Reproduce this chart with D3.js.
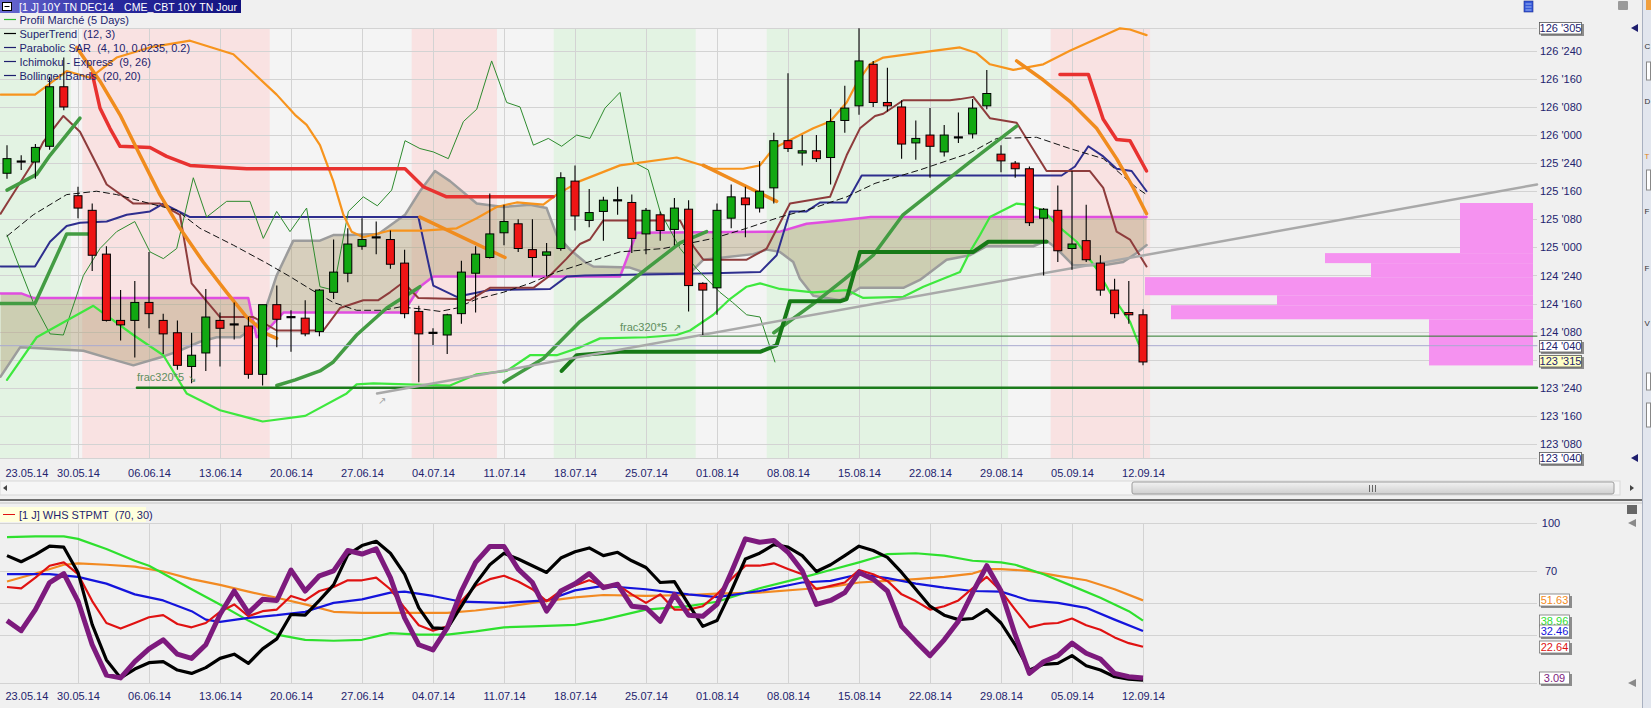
<!DOCTYPE html>
<html><head><meta charset="utf-8">
<script src="https://d3js.org/d3.v7.min.js"></script>
<style>
html,body{margin:0;padding:0;background:#f0f0f0;overflow:hidden}
svg{display:block}
text{font-family:"Liberation Sans",Arial,sans-serif;font-size:11px;white-space:pre}
</style></head><body>
<svg id="c" width="1651" height="708"></svg>
<script>
// ---------------- DATA ----------------
const dates = d3.timeDay.range(new Date(2014,4,23), new Date(2014,8,13))
  .filter(d => d.getDay() !== 0 && d.getDay() !== 6).map(d3.timeFormat("%d.%m.%y"));

const openP = [125.66,125.76,125.76,125.90,126.43,125.46,125.33,124.94,124.35,124.35,
124.51,124.35,124.24,123.94,124.06,124.35,124.32,124.30,123.87,124.49,
124.38,124.37,124.25,124.60,124.77,125.01,125.09,125.07,124.86,124.43,
124.24,124.22,124.41,124.77,124.91,125.13,125.21,124.98,124.93,124.99,
125.59,125.24,125.32,125.42,125.40,125.12,125.29,125.16,125.34,124.68,
124.64,125.26,125.44,125.35,125.53,125.95,125.84,125.86,125.80,126.13,
126.26,126.63,126.29,126.25,125.93,126.00,125.85,125.98,126.01,126.26,
125.83,125.75,125.70,125.26,125.33,124.99,125.06,124.86,124.62,124.42,124.40];
const highP = [125.91,125.82,125.92,126.52,126.69,125.54,125.39,125.01,124.62,124.70,
124.96,124.41,124.35,124.24,124.63,124.42,124.51,124.38,124.49,124.66,
124.44,124.53,124.63,125.07,125.17,125.26,125.23,125.15,124.98,124.48,
124.28,124.41,124.88,125.01,125.48,125.38,125.25,125.25,125.04,125.67,
125.73,125.52,125.45,125.54,125.47,125.35,125.32,125.44,125.42,124.69,
125.39,125.56,125.54,125.77,126.02,126.55,126.00,126.00,126.23,126.44,
126.95,126.66,126.60,126.31,126.13,126.24,126.09,126.20,126.32,126.58,
125.91,125.77,125.72,125.35,125.55,125.68,125.38,124.93,124.72,124.70,124.45];
const lowP = [125.61,125.69,125.61,125.87,126.22,125.26,124.79,124.34,124.17,124.02,
124.28,124.05,123.91,123.79,123.90,123.94,124.18,123.83,123.77,124.11,
124.07,124.21,124.21,124.54,124.69,124.98,124.94,124.81,124.37,123.80,
124.13,124.05,124.32,124.42,124.90,125.02,124.96,124.74,124.74,124.97,
125.15,125.18,125.06,125.29,124.95,124.94,125.06,125.02,124.43,124.22,
124.40,125.17,125.09,125.31,125.39,125.85,125.73,125.76,125.56,126.02,
126.18,126.25,126.21,125.79,125.78,125.62,125.81,125.93,125.97,126.23,
125.67,125.62,125.19,124.75,124.87,124.80,124.87,124.57,124.37,124.32,123.95];
const closeP = [125.79,125.77,125.89,126.43,126.25,125.35,124.93,124.35,124.31,124.51,
124.41,124.23,123.95,124.04,124.38,124.28,124.31,123.87,124.49,124.36,
124.38,124.23,124.62,124.78,125.03,125.07,125.09,124.85,124.41,124.23,
124.24,124.40,124.78,124.94,125.12,125.23,124.99,124.91,124.96,125.62,
125.28,125.31,125.42,125.42,125.08,125.33,125.15,125.35,124.66,124.62,
125.33,125.45,125.38,125.50,125.95,125.88,125.86,125.79,126.12,126.24,
126.66,126.29,126.26,125.92,125.97,125.90,126.00,125.98,126.24,126.37,
125.77,125.70,125.22,125.34,124.97,125.03,124.89,124.62,124.41,124.40,123.98];

// background regime bands [fromBar, toBar, kind]
const bands = [[-0.5,4.5,"G"],[5.3,18.5,"R"],[28.5,34.5,"R"],[38.5,48.5,"G"],[53.5,70.5,"G"],[73.5,80.5,"R"]];

// indicator vertices [bar, price]
const upperBB = [[-0.45,126.36],[1.97,126.36],[4.2,126.57],[5.85,126.51],[7.72,126.69],[10.07,126.78],[12.89,126.84],[15.94,126.72],[18.99,126.36],[20.28,126.18],[21.1,126.09],[22.04,125.91],[22.98,125.59],[23.69,125.29],[24.27,125.14],[25.09,125.09],[26.97,125.15],[29.32,125.15],[31.67,125.17],[33.08,125.26],[34.48,125.36],[35.9,125.40],[37.77,125.38],[38.71,125.47],[40.35,125.59],[43.17,125.73],[47.16,125.80],[49.74,125.70],[51.85,125.70],[53.03,125.73],[53.97,125.88],[56.78,126.06],[57.96,126.12],[59.13,126.29],[59.83,126.46],[60.77,126.63],[61.71,126.69],[65.23,126.75],[67.11,126.78],[68.28,126.73],[69.22,126.63],[70.86,126.58],[72.98,126.63],[74.85,126.75],[78.38,126.95],[79.08,126.94],[80.25,126.89]];
const lowerBB = [[0,123.82],[2.09,124.20],[6.08,124.48],[8.9,124.22],[11.01,124.04],[12.65,123.70],[15.0,123.55],[18.0,123.45],[21.0,123.50],[23.92,123.70],[24.62,123.78],[25.8,123.79],[28.15,123.78],[31.2,123.77],[33.08,123.87],[35.19,123.90],[36.83,124.04],[38.71,124.04],[40.35,124.11],[41.76,124.19],[45.05,124.20],[47.16,124.22],[48.1,124.26],[49.74,124.40],[50.91,124.54],[52.09,124.65],[53.03,124.68],[54.43,124.63],[56.78,124.60],[59.13,124.62],[60.3,124.55],[63.12,124.56],[64.53,124.65],[67.11,124.78],[67.81,124.96],[68.52,125.11],[69.22,125.27],[71.1,125.39],[71.8,125.38],[72.98,125.33],[73.92,125.20],[75.33,125.05],[76.73,124.81],[77.67,124.60],[79.08,124.34],[79.79,124.11]];
const midBB = [[0,125.10],[1.85,125.29],[4.2,125.47],[6.31,125.50],[7.72,125.47],[10.07,125.39],[11.95,125.33],[13.59,125.17],[15.94,125.02],[18.28,124.86],[19.93,124.74],[21.34,124.63],[22.98,124.51],[24.62,124.44],[26.5,124.44],[27.68,124.47],[29.32,124.45],[30.49,124.43],[31.67,124.46],[33.08,124.54],[34.95,124.60],[36.83,124.68],[38.71,124.78],[40.7,124.86],[43.17,124.96],[46.22,124.99],[49.74,125.08],[52.09,125.17],[54.43,125.27],[56.78,125.35],[59.13,125.45],[61.13,125.57],[64.29,125.69],[67.81,125.84],[69.69,125.97],[72.51,125.98],[74.85,125.88],[77.2,125.79],[79.55,125.53],[80.25,125.47]];
const stRed1 = [[6.0,126.55],[6.55,126.24],[7.25,126.06],[7.96,125.90],[10.07,125.89],[11.24,125.81],[12.89,125.73],[16.88,125.70],[28.03,125.70],[29.32,125.54],[30.96,125.45],[38.47,125.45]];
const stRed2 = [[74.15,126.54],[76.15,126.54],[77.2,126.14],[78.14,125.96],[79.08,125.95],[80.25,125.68]];
const greenA = [[0,125.51],[2.09,125.65],[3.03,125.82],[5.14,126.15]];
const greenB = [[-0.45,124.50],[1.97,124.50],[4.2,125.12],[5.73,125.12]];
const greenC = [[19.0,123.77],[20.3,123.82],[22.04,123.90],[22.98,123.98],[24.62,124.22],[26.74,124.46],[29.08,124.65]];
const greenD = [[35.0,123.80],[37.77,124.01],[40.35,124.34],[42.7,124.57],[45.05,124.81],[47.4,125.04],[49.27,125.14]];
const greenE = [[54.0,124.24],[56.8,124.50],[59.0,124.72],[61.0,124.93],[63.1,125.29],[65.5,125.53],[67.8,125.76],[71.1,126.08]];
const darkStep = [[39.06,123.90],[40.12,124.04],[43.17,124.07],[53.03,124.07],[54.2,124.13],[55.14,124.52],[58.66,124.52],[59.13,124.54],[60.07,124.96],[68.05,124.96],[69.1,125.05],[73.21,125.05]];
const brown = [[-0.45,125.30],[0,125.39],[1.85,125.76],[2.56,125.94],[3.97,126.17],[5.14,126.03],[6.55,125.68],[7.02,125.56],[8.9,125.39],[10.77,125.39],[12.18,125.29],[13.0,124.68],[15.0,124.38],[17.35,124.38],[18.99,124.26],[22.28,124.26],[23.45,124.46],[25.09,124.53],[26.15,124.53],[26.97,124.60],[27.91,124.69],[28.97,124.55],[31.67,124.54],[32.6,124.53],[34.01,124.64],[37.07,124.64],[38.24,124.75],[39.41,124.90],[40.35,125.03],[41.05,125.07],[42.0,125.24],[47.4,125.24],[48.33,125.01],[49.04,124.89],[52.09,124.89],[53.5,124.99],[55.14,125.39],[57.96,125.45],[59.13,125.82],[60.07,126.06],[61.13,126.17],[61.71,126.19],[63.12,126.31],[66.4,126.31],[67.11,126.32],[68.05,126.34],[69.22,126.15],[71.1,126.11],[73.21,125.68],[76.26,125.68],[77.2,125.53],[78.14,125.14],[79.08,125.07],[80.25,124.83]];
const navy = [[-0.45,124.83],[1.97,124.83],[3.03,125.05],[4.2,125.19],[5.14,125.22],[7.02,125.23],[8.43,125.29],[10.07,125.32],[11.01,125.39],[11.95,125.33],[12.89,125.27],[28.97,125.27],[30.02,124.66],[31.67,124.56],[34.01,124.62],[38.24,124.63],[39.41,124.74],[40.7,124.75],[49.74,124.77],[53.03,124.78],[54.2,124.93],[55.14,125.32],[56.31,125.32],[57.25,125.40],[59.13,125.40],[60.19,125.64],[74.27,125.64],[75.21,125.72],[76.15,125.90],[77.2,125.81],[78.14,125.70],[79.2,125.68],[80.25,125.50]];
const spanB = [[-0.45,124.59],[1.0,124.59],[1.85,124.55],[16.99,124.55],[17.58,124.20],[18.52,124.29],[19.46,124.42],[27.91,124.42],[29.08,124.65],[30.02,124.74],[43.17,124.74],[44.34,125.13],[54.43,125.14],[56.31,125.21],[57.96,125.23],[60.82,125.27],[80.25,125.27]];
const spanA = [[-0.45,123.85],[0.92,124.11],[2.56,124.10],[5.38,124.08],[7.25,124.01],[8.9,123.95],[10.77,124.02],[11.95,124.07],[13.59,124.16],[14.77,124.20],[16.41,124.20],[17.58,124.31],[18.28,124.48],[18.99,124.75],[20.16,125.06],[22.04,125.06],[22.98,125.11],[24.04,125.11],[26.15,125.12],[28.03,125.29],[29.08,125.50],[30.14,125.68],[31.2,125.59],[33.08,125.39],[34.95,125.36],[36.83,125.38],[38.0,125.35],[38.71,125.11],[39.65,124.98],[40.7,124.87],[41.29,124.83],[43.87,124.82],[45.05,124.77],[48.1,124.77],[49.04,124.89],[52.56,124.94],[53.5,124.98],[54.43,124.96],[55.37,124.87],[55.84,124.72],[56.78,124.57],[58.66,124.53],[59.13,124.56],[60.07,124.64],[63.12,124.64],[64.29,124.71],[66.17,124.89],[67.81,124.93],[68.99,125.01],[72.27,125.01],[73.21,125.06],[73.92,124.99],[75.09,124.84],[77.2,124.84],[78.61,124.87],[79.55,124.95],[80.25,125.02]];
const chikou = [[0,125.11],[0.92,124.81],[1.85,124.51],[3.03,124.23],[3.97,124.22],[5.38,124.75],[6.55,124.99],[7.72,125.14],[9.0,125.23],[10.07,124.96],[11.01,124.90],[11.95,124.99],[13.12,125.62],[14.06,125.27],[15.47,125.41],[17.11,125.41],[18.05,125.08],[18.99,125.32],[19.93,125.14],[21.1,125.35],[22.04,124.65],[22.98,124.62],[24.04,125.32],[25.09,125.45],[26.08,125.37],[27.09,125.51],[28.03,125.95],[29.08,125.88],[30.02,125.85],[31.08,125.79],[32.14,126.12],[33.08,126.23],[34.13,126.66],[35.19,126.29],[36.13,126.25],[37.07,125.91],[38.12,125.97],[39.06,125.90],[40.12,126.00],[41.05,125.97],[42.11,126.24],[43.17,126.38],[44.11,125.76],[45.16,125.69],[45.99,125.32],[47.4,124.99],[48.57,124.81],[50.21,124.60],[51.1,124.51],[52.09,124.40],[53.03,124.38],[54.08,123.98]];
const orangeT1 = [[4.91,126.78],[6.55,126.48],[7.96,126.18],[9.37,125.82],[10.77,125.47],[12.18,125.17],[13.82,124.87],[15.47,124.60],[16.88,124.38],[18.28,124.23],[18.99,124.19]];
const orangeT2 = [[29.08,125.27],[35.07,124.91]];
const orangeT3 = [[49.04,125.73],[54.2,125.41]];
const orangeT4 = [[71.1,126.66],[72.98,126.49],[74.85,126.30],[76.73,126.06],[78.14,125.79],[79.32,125.53],[80.25,125.30]];
const trendGrey = [[26.06,123.70],[107.75,125.56]];
const fracLevel = {price:123.75, fromBar:9.15};
const fracLevel2 = {price:124.21, fromBar:48.8};
const markLevel = 124.125;

// market profile
const profLo  = [124.949,124.860,124.735,124.574,124.485,124.360,123.949];
const profHi  = [125.395,124.949,124.860,124.735,124.574,124.485,124.360];
const profVol = [73,208,162,388,256,362,104];

// price boxes
const boxVals = [126.953125, 124.125, 123.984375, 123.125];

// ---- lower panel: WHS STPMT ----
const stBlack = [79.6,75.8,80.2,85.5,84.9,69.1,36.5,14.4,3.2,8.7,12.7,13.3,8.1,6.0,9.6,15.4,18.0,12.3,21.3,27.6,42.8,42.4,51.6,61.3,80.2,85.9,88.6,81.1,68.0,47.0,34.4,34.0,48.0,62.1,73.9,81.1,77.5,73.3,69.1,78.1,
82.0,84.4,79.6,81.7,76.4,72.2,62.8,63.4,49.1,35.4,39.0,57.5,77.5,81.1,86.5,84.9,79.6,69.7,73.9,79.6,85.5,82.8,78.5,69.1,58.6,48.0,42.4,39.6,40.3,45.9,37.5,23.9,8.1,11.7,12.3,17.1,10.8,8.1,3.9,2.4,1.8];
const stPurple = [39.0,32.7,45.9,62.8,68.4,51.2,23.9,4.9,3.2,13.3,21.3,27.0,18.0,15.4,23.9,42.8,57.5,43.8,52.3,51.6,70.6,57.5,67.0,70.1,82.8,80.6,83.8,65.9,40.7,23.9,20.7,34.4,57.5,75.4,85.3,85.3,71.2,62.8,44.9,57.5,
62.0,68.4,59.6,61.7,48.0,47.0,38.6,55.4,42.4,41.7,49.1,69.1,90.1,88.0,89.1,81.7,70.1,49.1,51.6,56.5,69.1,64.9,57.5,35.4,26.0,17.1,27.0,38.6,56.5,73.3,57.5,30.2,6.0,13.3,17.1,24.9,18.6,15.0,6.0,3.9,3.09];
const stRed = [60.0,59.2,65.9,73.3,75.4,68.0,51.2,37.5,34.0,37.5,41.1,42.4,36.9,34.8,37.5,44.5,49.1,41.7,44.9,45.9,54.4,51.6,57.5,60.0,64.2,64.2,65.9,58.6,47.0,36.1,32.7,35.4,51.2,60.7,64.9,67.0,63.4,58.6,51.2,57.5,
61.0,64.2,60.7,61.3,55.4,50.1,55.4,45.9,45.9,48.0,55.4,64.9,73.3,73.3,74.8,71.2,68.0,58.6,60.7,62.8,70.6,68.0,63.8,55.4,51.2,45.9,48.0,51.6,59.2,66.3,57.5,45.9,34.8,36.9,37.5,40.3,36.1,33.3,28.5,24.9,22.64];
const stBlue = [[0,68.0],[3,68.0],[5,66.3],[7,62.1],[9,55.4],[11,51.6],[13,44.9],[14,39.6],[15,38.2],[17,40.7],[19,42.4],[21,44.5],[23,50.1],[25,52.3],[27,56.5],[28,57.1],[30,54.4],[32,50.8],[35,50.1],[38,51.6],[40,57.9],[42,60.7],[45,58.6],[48,55.4],[50,53.7],[53,57.5],[56,62.8],[58,63.8],[60,68.0],[62,65.5],[64,62.1],[66,59.6],[68,57.5],[70,57.1],[72,51.6],[74,50.1],[76,47.0],[78,39.6],[80,32.46]];
const stGreen = [[0,91.2],[2,91.6],[4,91.6],[5,90.1],[7,83.8],[9,76.4],[10,73.3],[11,68.4],[13,58.6],[15,49.1],[17,39.0],[19,30.2],[21,27.0],[23,26.4],[25,27.0],[27,31.2],[29,30.2],[31,30.2],[33,32.3],[35,34.8],[37,35.4],[40,36.3],[42,39.6],[45,45.9],[48,48.0],[50,50.8],[53,59.2],[56,65.9],[58,70.6],[60,75.4],[62,80.6],[64,81.1],[66,79.6],[68,76.4],[70,75.4],[71,73.9],[73,68.0],[75,60.7],[77,53.3],[79,44.9],[80,38.96]];
const stOrange = [[0,63.4],[2,68.4],[4,73.9],[5,74.8],[7,73.9],[9,72.7],[11,69.7],[13,64.9],[15,61.3],[17,57.1],[19,53.3],[21,49.1],[23,44.5],[25,43.8],[27,43.8],[29,43.8],[31,43.8],[33,45.3],[35,47.4],[37,50.1],[40,53.5],[42,55.0],[45,54.4],[48,55.0],[50,55.8],[53,56.5],[56,58.6],[58,60.0],[60,62.8],[62,63.8],[64,64.9],[66,66.3],[68,68.4],[69,71.2],[70,71.2],[72,70.1],[74,67.0],[76,64.2],[78,58.6],[80,51.63]];
const lowerTicks = [100,70];
const lowerGrid = [0,30,50,70,100];

// ---------------- DRAW ----------------
const svg = d3.select("#c");
const XR = 1537, TOP = 28, BOT = 458;
const x = d3.scaleLinear().domain([0,80]).range([7,1143]);
const y = d3.scaleLinear().domain([123.125,126.953125]).range([BOT,TOP]);
const yb = d3.scaleLinear().domain([0,100]).range([683,523]);
const pv = d3.scaleLinear().domain([0,400]).range([0,400]);
const fmt = v => { const n = Math.floor(v + 1e-9); const f = Math.round((v - n) * 320); return n + " '" + String(f).padStart(3,"0"); };
const fridays = d3.range(5, 81, 5);
const NAVY = "#1e1e6e";

svg.append("rect").attr("width",1651).attr("height",708).attr("fill","#f0f0f0");
const defs = svg.append("defs");
const tg = defs.append("linearGradient").attr("id","tg");
tg.append("stop").attr("offset","0").attr("stop-color","#6a6ad2");
tg.append("stop").attr("offset","0.45").attr("stop-color","#2a2aa0");
tg.append("stop").attr("offset","1").attr("stop-color","#12127e");
const sg = defs.append("linearGradient").attr("id","sg").attr("x1",0).attr("x2",0).attr("y1",0).attr("y2",1);
sg.append("stop").attr("offset","0").attr("stop-color","#f2f2f2");
sg.append("stop").attr("offset","1").attr("stop-color","#cfcfcf");

// background bands
svg.append("rect").attr("x",x(-0.5)).attr("y",TOP).attr("width",x(80.5)-x(-0.5)).attr("height",BOT-TOP).attr("fill","#f4f4f4");
svg.append("g").selectAll("rect").data(bands).join("rect")
  .attr("x",d=>x(d[0])).attr("y",TOP).attr("width",d=>x(d[1])-x(d[0])).attr("height",BOT-TOP)
  .attr("fill",d=>d[2]==="G"?"#e3f3e3":"#f9e2e2");

// grid (top)
const priceTicks = d3.range(123.25, 126.76, 0.25);
const grid = svg.append("g").attr("stroke","#d3d3d3").attr("stroke-width",1);
priceTicks.concat([126.953125,123.125]).forEach(v=>{
  const yy = Math.round(y(v))+0.5;
  grid.append("line").attr("x1",0).attr("x2",XR).attr("y1",yy).attr("y2",yy);
});
fridays.forEach(i=>{
  const xx = Math.round(x(i))+0.5;
  grid.append("line").attr("x1",xx).attr("x2",xx).attr("y1",TOP).attr("y2",BOT);
});

// market profile
svg.append("g").selectAll("rect").data(profVol).join("rect")
  .attr("x",(d)=>1533-pv(d)).attr("width",d=>pv(d))
  .attr("y",(d,k)=>y(profHi[k])).attr("height",(d,k)=>y(profLo[k])-y(profHi[k]))
  .attr("fill","#f592f0");

const line = d3.line().x(d=>x(d[0])).y(d=>y(d[1]));
function lp(data,color,w,dash,op){
  svg.append("path").attr("d",line(data)).attr("fill","none").attr("stroke",color)
   .attr("stroke-width",w).attr("stroke-linejoin","round").attr("stroke-linecap","round")
   .attr("stroke-dasharray",dash||null).attr("opacity",op||1);
}
// ichimoku cloud
svg.append("path").attr("d",line(spanA.concat(spanB.slice().reverse()))+"Z")
  .attr("fill","#a89464").attr("fill-opacity",0.38).attr("stroke","none");
lp(spanA,"#9c9c9c",2.5);
lp(spanB,"#e04ee0",2.5);
lp(navy,"#2e2e8e",2);
lp(brown,"#8e3c3c",2);
lp(chikou,"#2e8b2e",1);
lp(upperBB,"#f7941d",2.2);
lp(lowerBB,"#3ee83e",2.2);
lp(midBB,"#111",1,"6,4");
lp(stRed1,"#e83230",3.5);
lp(stRed2,"#e83230",3.5);
[greenA,greenB,greenC,greenD,greenE].forEach(s=>lp(s,"#439c43",3.5));
lp(darkStep,"#177a17",4);
[orangeT1,orangeT2,orangeT3,orangeT4].forEach(s=>lp(s,"#f08c1e",3.5));
const iR = x.invert(XR);
lp([[fracLevel.fromBar,fracLevel.price],[iR,fracLevel.price]],"#1b7b1b",2.5);
lp([[fracLevel2.fromBar,fracLevel2.price],[iR,fracLevel2.price]],"#2a7a2a",1);
lp([[x.invert(0),markLevel],[iR,markLevel]],"#aaaad0",1);
lp(trendGrey,"#a9a9a9",2.5);

// candles
const cg = svg.append("g");
openP.forEach((o,i)=>{
  const c = closeP[i], cx = x(i);
  cg.append("line").attr("x1",cx).attr("x2",cx).attr("y1",y(highP[i])).attr("y2",y(lowP[i])).attr("stroke","#000").attr("stroke-width",1.1);
  const y1 = y(Math.max(o,c)), y2 = y(Math.min(o,c));
  if (y2 - y1 < 1.6) {
    cg.append("rect").attr("x",cx-4.5).attr("y",(y1+y2)/2-1).attr("width",9).attr("height",2.2).attr("fill","#000");
  } else {
    cg.append("rect").attr("x",cx-4).attr("y",y1).attr("width",8).attr("height",y2-y1)
      .attr("fill", c>o ? "#12a812" : "#ee1515").attr("stroke","#000").attr("stroke-width",1);
  }
});

// frac annotations
const ann = svg.append("g").attr("fill","#5f8f5f");
ann.append("text").attr("x",x(fracLevel.fromBar)).attr("y",381).text("frac320*5");
ann.append("text").attr("x",188).attr("y",382).style("font-family","DejaVu Sans").style("font-size","10px").text("↘");
ann.append("text").attr("x",620).attr("y",331).text("frac320*5");
ann.append("text").attr("x",673).attr("y",331).style("font-family","DejaVu Sans").style("font-size","10px").text("↗");
svg.append("text").attr("x",378).attr("y",404).attr("fill","#a0a0a0").style("font-family","DejaVu Sans").style("font-size","10px").text("↗");

// price axis
const pa = svg.append("g").attr("transform",`translate(${XR},0)`)
  .call(d3.axisRight(y).tickValues(priceTicks).tickFormat(fmt).tickSize(0).tickPadding(3));
pa.select(".domain").remove();
pa.selectAll("text").attr("fill","#23236e").style("font-size","11px").style("font-family","Liberation Sans, Arial");
// boxes
const bx = svg.append("g");
boxVals.forEach(v=>{
  const yy = Math.round(y(v));
  bx.append("rect").attr("x",1541).attr("y",yy-4).attr("width",43).attr("height",12).attr("fill","#8c8c8c");
  bx.append("rect").attr("x",1539.5).attr("y",yy-5.5).attr("width",42).attr("height",11.5)
    .attr("fill", v===123.984375 ? "#ffffc4" : "#ffffff").attr("stroke","#555").attr("stroke-width",0.8);
  bx.append("text").attr("x",1560.5).attr("y",yy+4).attr("text-anchor","middle").attr("fill","#23236e").text(fmt(v));
});

// date axis (top)
const da = svg.append("g").attr("transform","translate(0,467)")
  .call(d3.axisBottom(x).tickValues([0].concat(fridays)).tickFormat(i=>dates[i]).tickSize(0).tickPadding(2));
da.select(".domain").remove();
da.selectAll("text").attr("fill","#23236e").style("font-size","11px").style("font-family","Liberation Sans, Arial");
da.selectAll("text").filter(d=>d===0).attr("text-anchor","start").attr("x",-2);

// scrollbar & divider
svg.append("rect").attr("x",0).attr("y",481).attr("width",1620).attr("height",14).attr("fill","#f6f6f6").attr("stroke","#d8d8d8");
svg.append("rect").attr("x",1132).attr("y",482).attr("width",482).attr("height",12).attr("rx",2).attr("fill","url(#sg)").attr("stroke","#9c9c9c");
[1369,1372,1375].forEach(g=>svg.append("line").attr("x1",g+0.5).attr("x2",g+0.5).attr("y1",485).attr("y2",492).attr("stroke","#666"));
svg.append("path").attr("d","M3,488 L7,485 L7,491 Z").attr("fill","#444");
svg.append("path").attr("d","M1630,485 L1634,488 L1630,491 Z").attr("fill","#444");
svg.append("line").attr("x1",0).attr("x2",1642).attr("y1",500).attr("y2",500).attr("stroke","#6e6e6e").attr("stroke-width",2);
svg.append("line").attr("x1",0).attr("x2",1642).attr("y1",503).attr("y2",503).attr("stroke","#c4c4c4").attr("stroke-width",1);

// lower panel grid
const lg = svg.append("g").attr("stroke","#d3d3d3");
lowerGrid.forEach(v=>{const yy=Math.round(yb(v))+0.5; lg.append("line").attr("x1",0).attr("x2",XR).attr("y1",yy).attr("y2",yy);});
fridays.forEach(i=>{const xx=Math.round(x(i))+0.5; lg.append("line").attr("x1",xx).attr("x2",xx).attr("y1",yb(100)).attr("y2",yb(0));});

const lineB = d3.line().x(d=>x(d[0])).y(d=>yb(d[1]));
const idx = arr => arr.map((v,i)=>[i,v]);
function lb(data,color,w){ svg.append("path").attr("d",lineB(data)).attr("fill","none").attr("stroke",color).attr("stroke-width",w).attr("stroke-linejoin","round"); }
lb(stOrange,"#f28a22",2.2);
lb(stGreen,"#2ee02e",2.2);
lb(stBlue,"#1414dc",2.2);
lb(idx(stRed),"#e01212",2.2);
lb(idx(stBlack),"#000000",3.2);
lb(idx(stPurple),"#7d1a7d",5);

// lower axis labels
const la = svg.append("g").attr("transform",`translate(${XR},0)`)
  .call(d3.axisRight(yb).tickValues(lowerTicks).tickSize(0).tickPadding(14));
la.select(".domain").remove();
la.selectAll("text").attr("fill","#23236e").attr("text-anchor","middle").style("font-size","11px").style("font-family","Liberation Sans, Arial");
const lastVals = [[stOrange[stOrange.length-1][1],"#f28a22"],[stGreen[stGreen.length-1][1],"#2ee02e"],[stBlue[stBlue.length-1][1],"#1414dc"],[stRed[stRed.length-1],"#e01212"],[stPurple[stPurple.length-1],"#7d1a7d"]];
lastVals.forEach(([v,col])=>{
  const yy = Math.round(yb(v));
  svg.append("rect").attr("x",1541).attr("y",yy-4).attr("width",31).attr("height",12).attr("fill","#8c8c8c");
  svg.append("rect").attr("x",1539.5).attr("y",yy-6).attr("width",30).attr("height",12).attr("fill","#fff").attr("stroke","#777").attr("stroke-width",0.8);
  svg.append("text").attr("x",1554.5).attr("y",yy+4).attr("text-anchor","middle").attr("fill",col).text(d3.format(".2f")(v));
});
// lower date axis
const db = svg.append("g").attr("transform","translate(0,690)")
  .call(d3.axisBottom(x).tickValues([0].concat(fridays)).tickFormat(i=>dates[i]).tickSize(0).tickPadding(2));
db.select(".domain").remove();
db.selectAll("text").attr("fill","#23236e").style("font-size","11px").style("font-family","Liberation Sans, Arial");
db.selectAll("text").filter(d=>d===0).attr("text-anchor","start").attr("x",-2);

// lower legend
svg.append("rect").attr("x",0).attr("y",507).attr("width",146).attr("height",15).attr("fill","#ffffdc");
svg.append("line").attr("x1",3).attr("x2",15).attr("y1",514.5).attr("y2",514.5).attr("stroke","#e01212");
svg.append("text").attr("x",19).attr("y",518.5).attr("fill",NAVY).text("[1 J] WHS STPMT  (70, 30)");

// title & legend
svg.append("rect").attr("x",0).attr("y",0).attr("width",241).attr("height",13).attr("fill","url(#tg)");
svg.append("rect").attr("x",2.5).attr("y",2.5).attr("width",9).attr("height",8).attr("fill","#fff").attr("stroke","#000");
svg.append("line").attr("x1",4.5).attr("x2",9.5).attr("y1",6.5).attr("y2",6.5).attr("stroke","#000");
svg.append("text").attr("x",19).attr("y",11).attr("fill","#fff").style("font-size","10.5px").text("[1 J] 10Y TN DEC14");
svg.append("text").attr("x",124).attr("y",11).attr("fill","#fff").style("font-size","10.5px").attr("textLength",113).text("CME_CBT 10Y TN Jour");
const legendItems = [["Profil Marché (5 Days)","#33bb33"],["SuperTrend  (12, 3)","#000"],["Parabolic SAR  (4, 10, 0.0235, 0.2)",NAVY],["Ichimoku - Express  (9, 26)",NAVY],["Bollinger Bands  (20, 20)",NAVY]];
legendItems.forEach(([t,c],k)=>{
  const yy = 19.5 + k*14;
  svg.append("line").attr("x1",4).attr("x2",16).attr("y1",yy).attr("y2",yy).attr("stroke",c).attr("stroke-width",1.2);
  svg.append("text").attr("x",19.5).attr("y",yy+4).attr("fill",NAVY).text(t);
});

// right chrome
svg.append("rect").attr("x",1524).attr("y",1).attr("width",9).attr("height",11).attr("fill","#3558d8").attr("stroke","#1a2a90").attr("stroke-width",0.6);
[4,7,10].forEach(r=>svg.append("line").attr("x1",1525.5).attr("x2",1531.5).attr("y1",r).attr("y2",r).attr("stroke","#cfe0ff").attr("stroke-width",0.7));
svg.append("rect").attr("x",1618).attr("y",1).attr("width",10).attr("height",9).attr("fill","#9a9a9a").attr("rx",1);
svg.append("path").attr("d","M1631,28 L1638,24 L1638,32 Z").attr("fill","#1e1e6e");
svg.append("path").attr("d","M1631,458 L1638,454 L1638,462 Z").attr("fill","#1e1e6e");
svg.append("path").attr("d","M1628,523 L1636,519 L1636,527 Z").attr("fill","#8a8a8a");
svg.append("path").attr("d","M1628,683 L1636,679 L1636,687 Z").attr("fill","#8a8a8a");
svg.append("rect").attr("x",1627).attr("y",505).attr("width",10).attr("height",9).attr("fill","#666");
svg.append("rect").attr("x",1643).attr("y",0).attr("width",8).attr("height",708).attr("fill","#e2e6ee");
svg.append("line").attr("x1",1642.5).attr("x2",1642.5).attr("y1",0).attr("y2",708).attr("stroke","#a8b0c0");
svg.append("rect").attr("x",1646).attr("y",0).attr("width",5).attr("height",10).attr("fill","#f0a040");
[["C",49,"#333"],["D",104,"#333"],["T",159,"#e08020"],["F",214,"#333"],["F",271,"#333"],["V",326,"#333"]].forEach(([t,yy,c])=>
  svg.append("text").attr("x",1644.5).attr("y",yy).attr("fill",c).style("font-size","8px").text(t));
[[62,18],[170,20],[373,17],[403,24]].forEach(([yy,h])=>svg.append("rect").attr("x",1646.5).attr("y",yy).attr("width",4).attr("height",h).attr("fill","#fff").attr("stroke","#888"));
</script>
</body></html>
